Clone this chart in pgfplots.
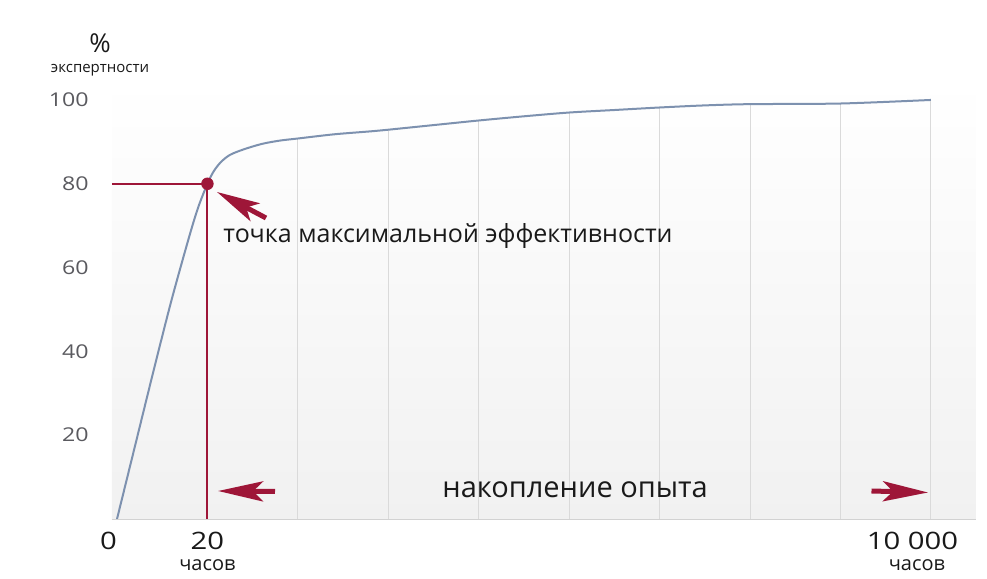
\documentclass[border=0pt]{standalone}
\usepackage{pgfplots}
\pgfplotsset{compat=1.18}
\usepackage{fontspec}
\setmainfont{Open Sans}
\newfontfamily\numfont{Open Sans}[FakeStretch=1.22]
\usetikzlibrary{arrows.meta}
\definecolor{redc}{RGB}{158,22,56}
\definecolor{curvec}{RGB}{125,145,175}
\definecolor{gridc}{RGB}{218,218,218}
\definecolor{axisc}{RGB}{210,210,210}
\definecolor{bgc}{RGB}{241,241,241}
\definecolor{ytc}{RGB}{90,90,95}
\definecolor{txtc}{RGB}{25,25,25}
\begin{document}
\begin{tikzpicture}
\useasboundingbox (0,0) rectangle (493.5pt,289.5pt);
\begin{axis}[
 at={(56pt,30pt)}, anchor=south west,
 scale only axis, width=432pt, height=220pt,
 xmin=-0.0553, xmax=9.498, ymin=0, ymax=105,
 axis line style={draw=none},
 major tick length=0pt,
 axis background/.style={top color=white, bottom color=bgc},
 ytick={20,40,60,80,100},
 yticklabel style={anchor=east, inner sep=0pt, xshift=-11.5pt, text=ytc, font=\numfont\fontsize{9.5}{10}\selectfont},
 /pgf/number format/assume math mode=true,
 xtick={0,1,9},
 xticklabels={{\makebox[0pt]{\kern-8.5pt 0}}, {20\\{\rmfamily\fontsize{10}{10.5}\selectfont часов}}, {\makebox[0pt]{\kern-18.5pt 10 000}\\\makebox[0pt]{\kern-14pt\rmfamily\fontsize{10}{10.5}\selectfont часов}}},
 xticklabel style={anchor=north, inner sep=0pt, yshift=-6.5pt, align=center, text=txtc, font=\numfont\fontsize{12}{10.5}\selectfont},
 clip=false,
]
\addplot[ycomb, gridc, line width=0.5pt, no marks] coordinates {(2,90.8) (3,92.9) (4,95.1) (5,97.0) (6,98.2) (7,99.0) (8,99.15) (9,100)};
\addplot[curvec, line width=1pt, smooth, tension=0.5, no marks] coordinates {
(0,0) (0.2,17.5) (0.4,35) (0.6,52) (0.8,67.5) (0.9,74.5) (1,80) (1.07,83) (1.15,85.2) (1.25,86.9) (1.4,88.2) (1.6,89.5) (1.8,90.3) (2.0,90.8) (2.4,91.8) (2.8,92.5) (3.0,92.9) (3.5,94.0) (4.0,95.1) (4.5,96.1) (5.0,97.0) (5.5,97.6) (6.0,98.2) (6.5,98.7) (7.0,99.0) (8.0,99.15) (9.0,100)};
\addplot[redc, line width=1pt, no marks] coordinates {(-0.0553,80) (1,80) (1,0)};
\addplot[redc, only marks, mark=*, mark size=2.9pt] coordinates {(1,80)};
\draw[axisc, line width=0.5pt] (axis cs:-0.0553,0) -- (axis cs:9.498,0);
\end{axis}
\begin{scope}[x=0.5pt,y=-0.5pt,shift={(0pt,289.5pt)}]
\node[anchor=base, font=\fontsize{13}{14}\selectfont, text=txtc, inner sep=0pt] at (100,53) {\%};
\node[anchor=base, font=\fontsize{7.5}{9}\selectfont, text=txtc, inner sep=0pt] at (100,73) {экспертности};
\node[anchor=base west, inner sep=0pt, font=\fontsize{12.5}{14}\selectfont, text=txtc] at (223,243) {точка максимальной эффективности};
\node[anchor=base west, inner sep=0pt, font=\fontsize{14.5}{16}\selectfont, text=txtc] at (442,498) {накопление опыта};
\draw[redc, line width=2.5pt, -{Stealth[length=21.5pt,width=10pt,inset=5pt]}] (266,218) -- (217,192);
\draw[redc, line width=2.5pt, -{Stealth[length=22.5pt,width=10pt,inset=5pt]}] (275,491.5) -- (218,491);
\draw[redc, line width=2.5pt, -{Stealth[length=22.5pt,width=10pt,inset=5pt]}] (871.5,491) -- (928,492.5);
\end{scope}
\end{tikzpicture}
\end{document}
